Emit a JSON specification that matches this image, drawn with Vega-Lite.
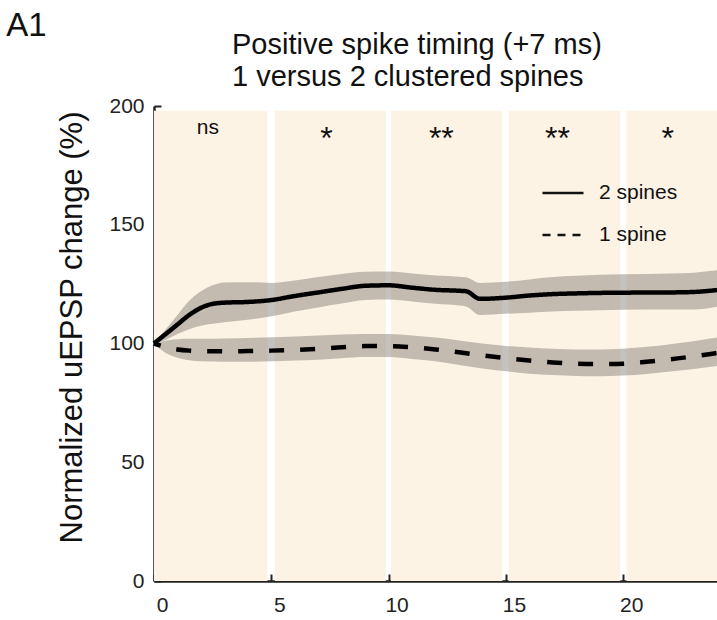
{
  "$schema": "https://vega.github.io/schema/vega-lite/v6.json",
  "width": 563,
  "height": 475,
  "autosize": {"type": "none"},
  "padding": {"left": 154, "top": 106, "right": 0, "bottom": 39},
  "background": "white",
  "config": {
    "view": {"stroke": null},
    "font": "Liberation Sans",
    "axis": {"labelFont": "Liberation Sans", "titleFont": "Liberation Sans"}
  },
  "title": {
    "text": ["Positive spike timing (+7 ms)", "1 versus 2 clustered spines"],
    "anchor": "start",
    "frame": "group",
    "dx": 78,
    "dy": 96,
    "fontSize": 29,
    "fontWeight": "normal",
    "font": "Liberation Sans",
    "color": "#111",
    "lineHeight": 32,
    "offset": 14
  },
  "datasets": {
    "bands": [
      {"x0": 0, "x1": 4.84, "lab": "ns", "xm": 2.3},
      {"x0": 5.15, "x1": 9.88, "lab": "*", "xm": 7.35},
      {"x0": 10.1, "x1": 14.85, "lab": "**", "xm": 12.25},
      {"x0": 15.12, "x1": 19.88, "lab": "**", "xm": 17.2},
      {"x0": 20.14, "x1": 24, "lab": "*", "xm": 21.9}
    ],
    "curves": [
      {"t": 0, "series": "2 spines", "m": 100, "lo": 100, "hi": 100},
      {"t": 0.5, "series": "2 spines", "m": 104, "lo": 101.5, "hi": 106},
      {"t": 1, "series": "2 spines", "m": 108, "lo": 104, "hi": 112},
      {"t": 1.5, "series": "2 spines", "m": 112, "lo": 106, "hi": 118},
      {"t": 2, "series": "2 spines", "m": 115, "lo": 107.5, "hi": 122},
      {"t": 2.5, "series": "2 spines", "m": 116.7, "lo": 108.3, "hi": 124.5},
      {"t": 3, "series": "2 spines", "m": 117.2, "lo": 109, "hi": 125.7},
      {"t": 4, "series": "2 spines", "m": 117.5, "lo": 110, "hi": 125.8},
      {"t": 5, "series": "2 spines", "m": 118.3, "lo": 111.5, "hi": 125.5},
      {"t": 6, "series": "2 spines", "m": 120, "lo": 113.5, "hi": 126.5},
      {"t": 7, "series": "2 spines", "m": 121.5, "lo": 115.2, "hi": 128},
      {"t": 8, "series": "2 spines", "m": 123, "lo": 116.8, "hi": 129.3},
      {"t": 9, "series": "2 spines", "m": 124.3, "lo": 118.3, "hi": 130.2},
      {"t": 10, "series": "2 spines", "m": 124.5, "lo": 118.5, "hi": 130.3},
      {"t": 11, "series": "2 spines", "m": 123.5, "lo": 117.7, "hi": 129.5},
      {"t": 12, "series": "2 spines", "m": 122.6, "lo": 116.7, "hi": 128.6},
      {"t": 13, "series": "2 spines", "m": 122.2, "lo": 116, "hi": 128.1},
      {"t": 13.3, "series": "2 spines", "m": 122, "lo": 115.6, "hi": 127.9},
      {"t": 13.9, "series": "2 spines", "m": 118.8, "lo": 112, "hi": 125.5},
      {"t": 15, "series": "2 spines", "m": 119.3, "lo": 112.5, "hi": 126},
      {"t": 16, "series": "2 spines", "m": 120.2, "lo": 113, "hi": 127},
      {"t": 17, "series": "2 spines", "m": 120.8, "lo": 113.5, "hi": 128},
      {"t": 18, "series": "2 spines", "m": 121.1, "lo": 113.8, "hi": 128.5},
      {"t": 19, "series": "2 spines", "m": 121.3, "lo": 114, "hi": 129},
      {"t": 20, "series": "2 spines", "m": 121.4, "lo": 114.2, "hi": 129.2},
      {"t": 22, "series": "2 spines", "m": 121.5, "lo": 114.3, "hi": 129.5},
      {"t": 23, "series": "2 spines", "m": 121.7, "lo": 114.3, "hi": 129.8},
      {"t": 24, "series": "2 spines", "m": 122.5, "lo": 115.5, "hi": 130.8},
      {"t": 0, "series": "1 spine", "m": 100, "lo": 100, "hi": 100},
      {"t": 0.5, "series": "1 spine", "m": 98.5, "lo": 96, "hi": 101.2},
      {"t": 1, "series": "1 spine", "m": 97.5, "lo": 94, "hi": 101.8},
      {"t": 1.5, "series": "1 spine", "m": 97, "lo": 93, "hi": 102},
      {"t": 2, "series": "1 spine", "m": 96.8, "lo": 92.5, "hi": 102},
      {"t": 3, "series": "1 spine", "m": 96.7, "lo": 92.3, "hi": 102.1},
      {"t": 4, "series": "1 spine", "m": 96.8, "lo": 92.3, "hi": 102.3},
      {"t": 5, "series": "1 spine", "m": 97, "lo": 92.5, "hi": 102.6},
      {"t": 6, "series": "1 spine", "m": 97.3, "lo": 92.8, "hi": 103},
      {"t": 7, "series": "1 spine", "m": 97.8, "lo": 93.2, "hi": 103.4},
      {"t": 8, "series": "1 spine", "m": 98.4, "lo": 93.8, "hi": 103.8},
      {"t": 9, "series": "1 spine", "m": 98.9, "lo": 94.3, "hi": 104},
      {"t": 10, "series": "1 spine", "m": 98.9, "lo": 94.3, "hi": 104},
      {"t": 11, "series": "1 spine", "m": 98.4, "lo": 93.5, "hi": 103.4},
      {"t": 12, "series": "1 spine", "m": 97.5, "lo": 92.5, "hi": 102.5},
      {"t": 13, "series": "1 spine", "m": 96.3, "lo": 91, "hi": 101.3},
      {"t": 14, "series": "1 spine", "m": 95, "lo": 89.5, "hi": 100},
      {"t": 15, "series": "1 spine", "m": 93.8, "lo": 88.3, "hi": 99},
      {"t": 16, "series": "1 spine", "m": 92.8, "lo": 87.3, "hi": 98.3},
      {"t": 17, "series": "1 spine", "m": 92, "lo": 86.7, "hi": 97.8},
      {"t": 18, "series": "1 spine", "m": 91.5, "lo": 86.3, "hi": 97.5},
      {"t": 19, "series": "1 spine", "m": 91.3, "lo": 86.2, "hi": 97.5},
      {"t": 20, "series": "1 spine", "m": 91.5, "lo": 86.5, "hi": 97.8},
      {"t": 21, "series": "1 spine", "m": 92.3, "lo": 87.2, "hi": 98.6},
      {"t": 22, "series": "1 spine", "m": 93.3, "lo": 88.2, "hi": 99.7},
      {"t": 23, "series": "1 spine", "m": 94.6, "lo": 89.3, "hi": 101},
      {"t": 24, "series": "1 spine", "m": 96, "lo": 90.5, "hi": 102.5}
    ],
    "panel": [{"label": "A1"}]
  },
  "layer": [
    {
      "data": {"name": "bands"},
      "mark": {"type": "rect", "color": "#fdf3e4"},
      "encoding": {
        "x": {"field": "x0", "type": "quantitative",
              "scale": {"domain": [0, 24], "nice": false, "zero": false},
              "axis": {"values": [0, 5, 10, 15, 20], "title": null, "grid": false,
                       "labelFontSize": 21, "labelColor": "#222", "labelOffset": 8,
                       "labelPadding": 20, "tickSize": -7, "tickWidth": 2, "tickColor": "#222",
                       "domainColor": "#222", "domainWidth": 2.5, "labelFlush": false}},
        "x2": {"field": "x1"},
        "y": {"datum": 0, "type": "quantitative",
              "scale": {"domain": [0, 200], "nice": false},
              "axis": {"values": [0, 50, 100, 150, 200], "title": "Normalized uEPSP change (%)",
                       "grid": false, "labelFontSize": 21, "labelColor": "#222",
                       "labelPadding": 17, "tickSize": -7, "tickWidth": 2, "tickColor": "#222",
                       "domainColor": "#222", "domainWidth": 2.5,
                       "titleFontSize": 31, "titleFontWeight": "normal", "titleColor": "#111",
                       "titlePadding": 20, "titleY": 221}},
        "y2": {"datum": 198}
      }
    },
    {
      "data": {"name": "curves"},
      "mark": {"type": "area", "color": "#7c7872", "opacity": 0.45, "interpolate": "monotone"},
      "encoding": {
        "x": {"field": "t", "type": "quantitative"},
        "y": {"field": "lo", "type": "quantitative"},
        "y2": {"field": "hi"},
        "detail": {"field": "series"}
      }
    },
    {
      "mark": {"type": "rule", "color": "#111", "strokeWidth": 2, "strokeDash": [8, 6]},
      "encoding": {"y": {"datum": 100, "type": "quantitative"}}
    },
    {
      "data": {"name": "curves"},
      "transform": [{"filter": "datum.series === '2 spines'"}],
      "mark": {"type": "line", "color": "black", "strokeWidth": 4.5, "interpolate": "monotone"},
      "encoding": {
        "x": {"field": "t", "type": "quantitative"},
        "y": {"field": "m", "type": "quantitative"},
        "strokeDash": {
          "field": "series", "type": "nominal",
          "scale": {"domain": ["2 spines", "1 spine"], "range": [[1, 0], [8, 7]]},
          "legend": {
            "title": null, "orient": "none", "legendX": 387, "legendY": 65,
            "symbolType": "stroke", "symbolSize": 1681, "symbolStrokeWidth": 2.5,
            "symbolStrokeColor": "#111",
            "labelFontSize": 21, "labelOffset": 14, "rowPadding": 10, "labelColor": "#111",
            "labelFont": "Liberation Sans"
          }
        }
      }
    },
    {
      "data": {"name": "curves"},
      "transform": [{"filter": "datum.series === '1 spine'"}],
      "mark": {"type": "line", "color": "black", "strokeWidth": 4.5, "interpolate": "monotone", "strokeDash": [15, 16], "strokeDashOffset": 8},
      "encoding": {
        "x": {"field": "t", "type": "quantitative"},
        "y": {"field": "m", "type": "quantitative"}
      }
    },
    {
      "data": {"name": "bands"},
      "transform": [{"filter": "datum.lab === 'ns'"}],
      "mark": {"type": "text", "fontSize": 21, "color": "#111", "baseline": "alphabetic", "align": "center"},
      "encoding": {
        "x": {"field": "xm", "type": "quantitative"},
        "y": {"datum": 188.3, "type": "quantitative"},
        "text": {"field": "lab"}
      }
    },
    {
      "data": {"name": "bands"},
      "transform": [{"filter": "datum.lab !== 'ns'"}],
      "mark": {"type": "text", "fontSize": 32, "color": "#111", "baseline": "alphabetic", "align": "center"},
      "encoding": {
        "x": {"field": "xm", "type": "quantitative"},
        "y": {"datum": 182, "type": "quantitative"},
        "text": {"field": "lab"}
      }
    },
    {
      "data": {"name": "panel"},
      "mark": {"type": "text", "fontSize": 33, "color": "#111", "baseline": "alphabetic", "align": "left"},
      "encoding": {
        "x": {"datum": -6.3, "type": "quantitative"},
        "y": {"datum": 229.5, "type": "quantitative"},
        "text": {"field": "label"}
      }
    }
  ]
}
